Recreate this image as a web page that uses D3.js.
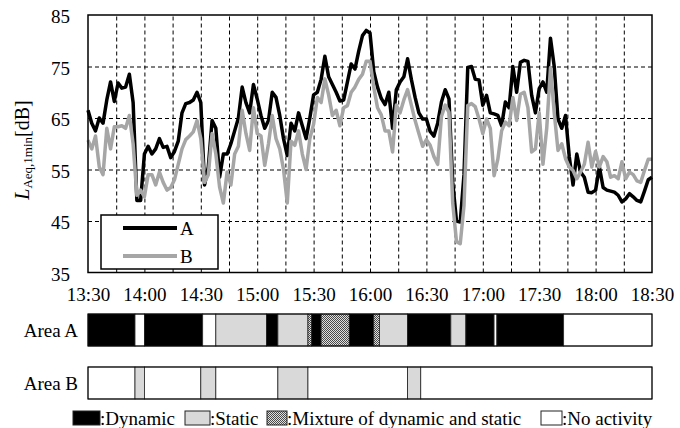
<!DOCTYPE html>
<html>
<head>
<meta charset="utf-8">
<script src="https://cdn.jsdelivr.net/npm/d3@7"></script>
<style>
body { margin: 0; background: #fff; }
</style>
</head>
<body>
<script>
// chart size
var width = 680;
var height = 428;
var serif = "'Liberation Serif', 'DejaVu Serif', serif";

// readings: minutes after 13:30, one value every 2 min
var stepMin = 2;
var seriesA = [
  66.5, 64, 62.5, 65, 64, 68.5, 72, 68.2, 71.8, 70.8,
  71, 73.5, 68, 49, 49, 58, 59.5, 58, 59, 61,
  59.3, 59.5, 57.3, 58.5, 60.5, 66, 67.8, 68, 68.5, 70,
  68, 52, 55.5, 64.5, 63, 53.5, 58, 58, 60, 62.5,
  65, 71, 68, 66, 71.5, 68.7, 65.5, 63, 64.5, 70,
  69, 65.5, 61, 57.7, 64, 62.5, 66, 63.5, 61, 65,
  69.5, 70, 72.5, 77, 73, 71.5, 70, 68.3, 68.5, 72,
  75.5, 74.5, 78, 81, 82, 81.5, 74, 71, 68.8, 67.6,
  70, 63, 70.5, 72, 73, 76.5, 72.5, 69, 66, 64.8,
  64.8, 62.4, 61.5, 64, 68.1, 70.5, 68.7, 52.5, 45, 44.8,
  54, 74.8, 75, 72.5, 72.4, 67.5, 69.4, 66, 65.8, 65.5,
  63.5, 68.1, 67, 75, 70, 75.8, 76.2, 76, 69.4, 66,
  70.7, 72, 70, 80.5, 75, 64.8, 63, 65.5, 57.5, 52,
  58, 54.5, 53.5, 50.6, 50.5, 51, 55.5, 51.5, 51, 50.8,
  50.6, 50, 48.7, 49.3, 50.3, 49.7, 49, 48.7, 50.8, 53,
  53.5
];
var seriesB = [
  60.7, 59, 61.5, 55.5, 54, 63, 59, 63.3, 63.3, 63.5,
  63, 65.5, 60, 50, 51, 49.7, 54, 54, 52, 54.5,
  52.5, 51, 51.5, 53, 56, 59, 60.8, 61.5, 62.3, 64.5,
  61, 52.5, 54, 62, 58, 51.6, 48.5, 54.5, 52, 58,
  59.5, 66.5, 62, 58.7, 67, 62, 61.5, 55.8, 60, 65.5,
  61, 59, 55, 48.5, 60.5, 59.7, 62.5, 58, 55, 61,
  63.8, 69, 68, 72.6, 69.5, 65.5, 66.5, 63.5, 67, 67.4,
  70, 71, 72.5, 73.5, 76, 76, 71, 67, 65.6, 62.5,
  62.5, 58.4, 67.5, 66, 68.5, 70.5, 67.5, 64.5, 62, 59.5,
  60.8, 59.7, 57.5, 56, 65.3, 67.5, 66.1, 48.5, 41, 40.6,
  48, 67.4, 67.8, 67.2, 64.8, 62, 64.8, 63, 53.8, 57,
  62.5, 64.2, 63.5, 69, 64.5, 69.6, 70, 67, 58.4, 59,
  66, 56, 63, 74.8, 66, 58.7, 60, 57.1, 55.5, 54.8,
  53.2, 54.5, 56, 60.3, 55.5, 58.5, 55.5, 57.5, 56.5, 53.5,
  53.8, 53.2, 56.5, 53.2, 54.5, 54, 52.8, 52.5, 54.8, 57,
  57
];
var seriesNames = ["A", "B"];

var timeTicks = [0, 30, 60, 90, 120, 150, 180, 210, 240, 270, 300];
var timeLabels = ["13:30", "14:00", "14:30", "15:00", "15:30", "16:00", "16:30", "17:00", "17:30", "18:00", "18:30"];
var levelTicks = [35, 45, 55, 65, 75, 85];

// activity bars (minutes after 13:30)
var areaNames = ["Area A", "Area B"];
var areaABreaks = [0, 25, 30, 61, 68, 95, 101, 117, 119, 124, 139, 152, 155, 170, 193, 201, 216, 217.5, 253, 300];
var areaATypes = ["D", "N", "D", "N", "S", "D", "S", "M", "D", "M", "D", "M", "S", "D", "S", "D", "N", "D", "N"];
var areaBBreaks = [0, 25, 30, 60, 68, 101, 117, 170, 177, 300];
var areaBTypes = ["N", "S", "N", "S", "N", "S", "N", "S", "N"];

var legendKeys = ["D", "S", "M", "N"];
var legendText = [":Dynamic", ":Static", ":Mixture of dynamic and static", ":No activity"];

var fs = "19px";

var svg = d3.select("body").append("svg")
    .attr("width", width)
    .attr("height", height)
    .attr("font-family", serif);

var defs = svg.append("defs");
var pat = defs.append("pattern")
    .attr("id", "mix")
    .attr("patternUnits", "userSpaceOnUse")
    .attr("width", 2).attr("height", 2);
pat.append("rect").attr("width", 2).attr("height", 2).attr("fill", "#e0e0e0");
pat.append("rect").attr("width", 1).attr("height", 1).attr("fill", "#4a4a4a");
pat.append("rect").attr("x", 1).attr("y", 1).attr("width", 1).attr("height", 1).attr("fill", "#4a4a4a");

var fills = { D: "#000", S: "#d9d9d9", M: "url(#mix)", N: "#fff" };

var x = d3.scaleLinear().domain([0, 300]).range([88, 652]);
var y = d3.scaleLinear().domain([35, 85]).range([272.5, 15]);
var plotW = 564, plotH = 257.5;

// grid
svg.append("g")
    .attr("transform", "translate(88,0)")
    .call(d3.axisLeft(y).tickValues([45, 55, 65, 75]).tickSize(-plotW).tickFormat(""))
    .call(function(g) { g.select(".domain").remove(); })
    .selectAll("line")
    .attr("stroke", "#000")
    .attr("stroke-dasharray", "4,3");

svg.append("g")
    .attr("transform", "translate(0,272.5)")
    .call(d3.axisBottom(x).tickValues(d3.range(15, 300, 15)).tickSize(-plotH).tickFormat(""))
    .call(function(g) { g.select(".domain").remove(); })
    .selectAll("line")
    .attr("stroke", "#000")
    .attr("stroke-dasharray", "4,3");

// lines
var line = d3.line()
    .x(function(d, i) { return x(i * stepMin); })
    .y(function(d) { return y(d); });

svg.append("path")
    .datum(seriesA)
    .attr("d", line)
    .attr("fill", "none")
    .attr("stroke", "#000")
    .attr("stroke-width", 3.5)
    .attr("stroke-linejoin", "round");

svg.append("path")
    .datum(seriesB)
    .attr("d", line)
    .attr("fill", "none")
    .attr("stroke", "#a6a6a6")
    .attr("stroke-width", 3.5)
    .attr("stroke-linejoin", "round");

// frame
svg.append("rect")
    .attr("x", 88).attr("y", 15)
    .attr("width", plotW).attr("height", plotH)
    .attr("fill", "none")
    .attr("stroke", "#000")
    .attr("stroke-width", 1.5);

// axes labels
var yAxis = svg.append("g")
    .attr("transform", "translate(88,0)")
    .call(d3.axisLeft(y).tickValues(levelTicks).tickSize(0).tickPadding(18));
yAxis.select(".domain").remove();
yAxis.selectAll("text")
    .style("font-family", serif)
    .style("font-size", fs)
    .attr("dy", "0.4em");

var xAxis = svg.append("g")
    .attr("transform", "translate(0,272.5)")
    .call(d3.axisBottom(x).tickValues(timeTicks).tickSize(0).tickPadding(15)
      .tickFormat(function(d, i) { return timeLabels[i]; }));
xAxis.select(".domain").remove();
xAxis.selectAll("text")
    .style("font-family", serif)
    .style("font-size", fs);

var ytitle = svg.append("text")
    .attr("transform", "translate(29,150) rotate(-90)")
    .attr("text-anchor", "middle")
    .style("font-family", serif)
    .style("font-size", "20px");
ytitle.append("tspan").style("font-style", "italic").text("L");
ytitle.append("tspan").style("font-size", "13px").attr("dy", 3).text("Aeq,1min");
ytitle.append("tspan").attr("dy", -3).text("[dB]");

// series legend
svg.append("rect")
    .attr("x", 101).attr("y", 215)
    .attr("width", 117).attr("height", 54)
    .attr("fill", "#fff")
    .attr("stroke", "#000")
    .attr("stroke-width", 1.5);

var leg = svg.selectAll(".leg")
    .data(seriesNames)
    .enter().append("g")
    .attr("class", "leg")
    .attr("transform", function(d, i) { return "translate(0," + (228 + i * 28) + ")"; });
leg.append("line")
    .attr("x1", 123).attr("x2", 177)
    .attr("stroke", function(d, i) { return i ? "#a6a6a6" : "#000"; })
    .attr("stroke-width", 4);
leg.append("text")
    .attr("x", 180).attr("y", 7)
    .style("font-family", serif)
    .style("font-size", fs)
    .text(function(d) { return d; });

// activity bars
var band = d3.scaleBand().domain(areaNames).range([314, 399]).paddingInner(0.396);

function segs(breaks, types) {
  return types.map(function(t, i) { return { t: t, a: breaks[i], b: breaks[i + 1] }; });
}
var areas = [segs(areaABreaks, areaATypes), segs(areaBBreaks, areaBTypes)];

areas.forEach(function(list, k) {
  var g = svg.append("g");
  g.selectAll("rect")
    .data(list)
    .enter().append("rect")
    .attr("x", function(d) { return x(d.a); })
    .attr("y", band(areaNames[k]))
    .attr("width", function(d) { return x(d.b) - x(d.a); })
    .attr("height", band.bandwidth())
    .attr("fill", function(d) { return fills[d.t]; })
    .attr("stroke", "#222")
    .attr("stroke-width", 0.8);
  g.append("rect")
    .attr("x", 88).attr("y", band(areaNames[k]))
    .attr("width", plotW).attr("height", band.bandwidth())
    .attr("fill", "none")
    .attr("stroke", "#000")
    .attr("stroke-width", 1);
  svg.append("text")
    .attr("x", 78)
    .attr("y", band(areaNames[k]) + band.bandwidth() / 2)
    .attr("dy", "0.35em")
    .attr("text-anchor", "end")
    .style("font-family", serif)
    .style("font-size", fs)
    .text(areaNames[k]);
});

// activity legend
var boxX = [73, 185, 267, 541];
var boxW = [27, 25, 20, 21];
var item = svg.selectAll(".act")
    .data(legendKeys)
    .enter().append("g")
    .attr("class", "act");
item.append("rect")
    .attr("x", function(d, i) { return boxX[i]; })
    .attr("y", 411)
    .attr("width", function(d, i) { return boxW[i]; })
    .attr("height", 14)
    .attr("fill", function(d) { return fills[d]; })
    .attr("stroke", "#222")
    .attr("stroke-width", 1);
item.append("text")
    .attr("x", function(d, i) { return boxX[i] + boxW[i]; })
    .attr("y", 425)
    .style("font-family", serif)
    .style("font-size", fs)
    .text(function(d, i) { return legendText[i]; });
</script>
</body>
</html>
